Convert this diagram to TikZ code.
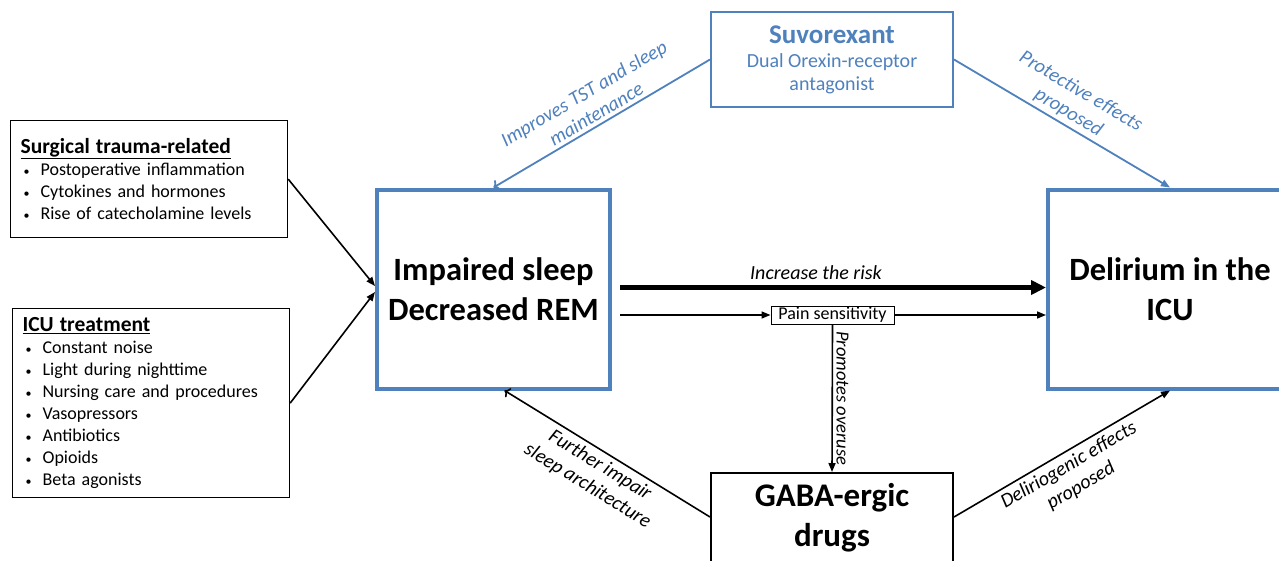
\documentclass[tikz,border=0pt]{standalone}
\usepackage{fontspec}
\setmainfont{Carlito}
\usetikzlibrary{arrows.meta,positioning,calc}
\definecolor{boxblue}{RGB}{79,129,189}

\tikzset{causebox/.style = {shape = rectangle,
                            draw = black,
                            line width = 1.2pt,
                            anchor = north west,
                            inner xsep = 10pt,
                            text width = 257pt,
                            align = left,
                            font = \fontsize{18}{22}\selectfont},
         mainbox/.style = {shape = rectangle,
                           draw = boxblue,
                           line width = 4pt,
                           minimum height = 199pt,
                           align = center,
                           font = \fontsize{32.5}{40}\selectfont\bfseries},
         drugbox/.style = {shape = rectangle,
                           line width = 2pt,
                           minimum width = 242pt,
                           align = center},
         painbox/.style = {shape = rectangle,
                           draw = black,
                           line width = 1pt,
                           minimum width = 123pt,
                           minimum height = 18pt,
                           inner sep = 0pt,
                           font = \fontsize{18}{18}\selectfont},
         lbl/.style = {font = \fontsize{20}{24}\selectfont\itshape,
                       align = center},
         arr/.style = {draw = black,
                       line width = 1.6pt,
                       -{Triangle[length = 9pt, width = 7pt]}},
         bluearr/.style = {draw = boxblue,
                           line width = 1.8pt,
                           -{Triangle[length = 9pt, width = 7pt]}},
         thickarr/.style = {draw = black,
                            line width = 5pt,
                            -{Triangle[length = 15pt, width = 14pt]}}}

\newcommand{\itm}[1]{\hspace*{3pt}\makebox[17pt][l]{\fontsize{12}{12}\selectfont\textbullet}#1}

\begin{document}
\begin{tikzpicture}[x = 1pt, y = -1pt]
  \clip (0,0) rectangle (1279,560);
  \fill[white] (0,0) rectangle (1279,560);

  % causes
  \node[causebox, minimum height = 117pt] (surg) at (10,120)
    {{\fontsize{21.5}{24}\selectfont\bfseries\underline{Surgical trauma-related}}\\
     \itm{Postoperative inflammation}\\
     \itm{Cytokines and hormones}\\
     \itm{Rise of catecholamine levels}};
  \node[causebox, minimum height = 189pt] (icu) at (12,308)
    {{\fontsize{21.5}{24}\selectfont\bfseries\underline{ICU treatment}}\\
     \itm{Constant noise}\\
     \itm{Light during nighttime}\\
     \itm{Nursing care and procedures}\\
     \itm{Vasopressors}\\
     \itm{Antibiotics}\\
     \itm{Opioids}\\
     \itm{Beta agonists}};

  % main boxes
  \node[mainbox, minimum width = 233pt] (imp) at (493.5,289) {Impaired sleep\\Decreased REM};
  \node[mainbox, minimum width = 244pt] (del) at (1170,289) {Delirium in the\\ICU};

  % drugs
  \node[drugbox, draw = boxblue, text = boxblue, minimum height = 95pt,
        font = \fontsize{20}{23}\selectfont] (suv) at (832,59.5)
    {{\fontsize{27}{28}\selectfont\bfseries Suvorexant}\\[1pt]
     Dual Orexin-receptor\\antagonist};
  \node[drugbox, draw = black, minimum height = 90pt,
        font = \fontsize{33}{40}\selectfont\bfseries] (gaba) at (832,518) {GABA-ergic\\drugs};

  \node[painbox] (pain) at (832.5,315) {Pain sensitivity};

  % connectors
  \draw[arr] (surg.east) -- ([yshift = 3pt]imp.west);
  \draw[arr] (icu.east) -- ([yshift = -3pt]imp.west);

  \draw[bluearr, <-] (imp.north) -- node[lbl, sloped, above, text = boxblue]
    {Improves TST and sleep\\maintenance} (suv.west);
  \draw[bluearr] (suv.east) -- node[lbl, sloped, above, text = boxblue]
    {Protective effects\\proposed} (del.north);

  \draw[thickarr, shorten <= 8pt] ([yshift = 1.5pt]imp.east) -- node[lbl, above = 2pt, pos = 0.47]
    {Increase the risk} ([yshift = 1.5pt]del.west);
  \draw[arr, shorten <= 8pt] ([yshift = -26pt]imp.east) -- (pain.west);
  \draw[arr] (pain.east) -- ([yshift = -26pt]del.west);
  \draw[arr] (pain.south) -- node[lbl, midway, rotate = -90, anchor = south,
    font = \fontsize{18.5}{22}\selectfont\itshape] {Promotes overuse} (gaba.north);

  \draw[arr, <-] ([xshift = 11pt]imp.south) -- node[lbl, sloped, below = 1pt]
    {Further impair\\sleep architecture} ([yshift = 1pt]gaba.west);
  \draw[arr] ([yshift = 1pt]gaba.east) -- node[lbl, sloped, below = 1pt]
    {Deliriogenic effects\\proposed} (del.south);
\end{tikzpicture}
\end{document}
